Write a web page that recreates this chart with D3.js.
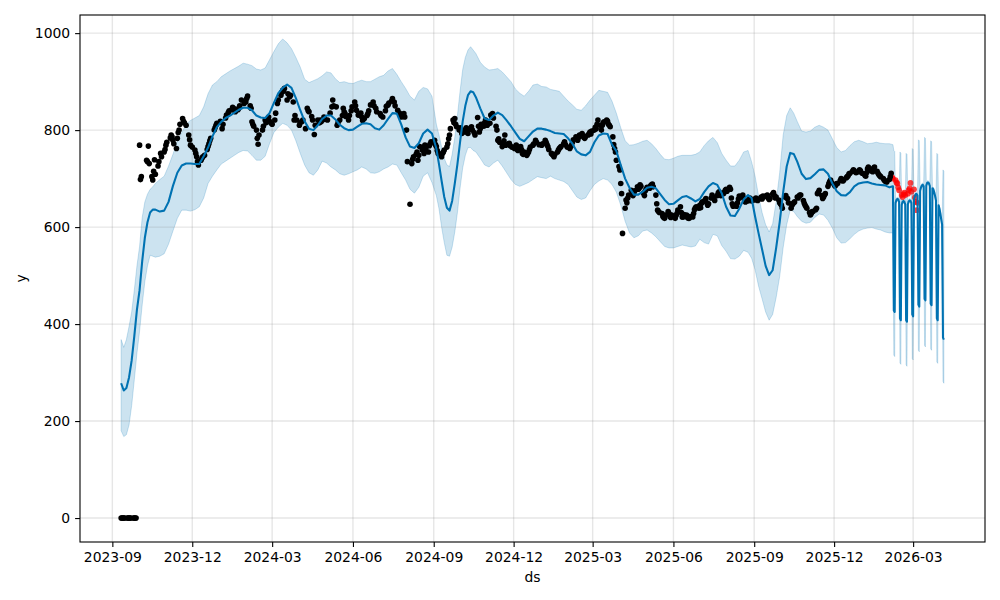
<!DOCTYPE html>
<html>
<head>
<meta charset="utf-8">
<script src="https://cdn.jsdelivr.net/npm/d3@7"></script>
<style>
  body { margin: 0; background: #fff; }
  svg { font-family: "DejaVu Sans", sans-serif; }
</style>
</head>
<body>
<svg id="chart" width="1000" height="600"></svg>
<script>
// observed values (black dots), [month-day, y]
const actual2023 = [
  ["09-11",0],["09-12",0],["09-13",0],["09-14",0],["09-15",0],["09-18",0],["09-19",0],["09-20",0],["09-21",0],["09-22",0],["09-25",0],["09-26",0],["09-27",0],["09-28",0],
  ["10-02",769],["10-03",698],["10-04",704],["10-10",738],["10-11",735],["10-12",767],["10-13",731],["10-16",704],["10-17",697],["10-18",715],["10-19",739],["10-20",709],["10-23",726],["10-24",735],["10-26",752],["10-27",745],["10-30",755],["10-31",760],
  ["11-01",769],["11-02",775],["11-06",784],["11-07",790],["11-08",786],["11-09",779],["11-10",772],["11-13",762],["11-14",783],["11-15",795],["11-16",800],["11-17",812],["11-20",824],["11-21",818],["11-22",815],["11-24",810],["11-27",790],["11-28",780],["11-29",769],
  ["12-01",765],["12-04",759],["12-05",752],["12-06",745],["12-07",735],["12-08",728],["12-11",738],["12-12",742],["12-13",745],["12-15",748],["12-18",760],["12-19",766],["12-20",772],["12-21",778],["12-22",783],["12-26",800],["12-27",805],["12-28",810],["12-29",814]
];
const actual2024 = [
  ["01-02",818],["01-04",803],["01-05",812],["01-08",825],["01-09",831],["01-11",836],["01-12",840],["01-15",842],["01-16",847],["01-18",844],["01-19",838],["01-22",842],["01-23",845],["01-24",850],["01-26",862],["01-29",855],["01-31",858],
  ["02-01",865],["02-02",870],["02-05",850],["02-06",845],["02-07",817],["02-08",812],["02-09",808],["02-12",800],["02-13",783],["02-14",771],["02-15",790],["02-19",800],["02-20",808],["02-22",821],["02-23",815],["02-26",827],["02-27",818],["02-29",814],
  ["03-01",812],["03-04",821],["03-05",835],["03-07",855],["03-08",862],["03-11",872],["03-12",878],["03-13",882],["03-14",880],["03-15",886],["03-18",862],["03-19",875],["03-21",869],["03-22",872],["03-25",858],["03-26",821],["03-27",830],["03-29",821],
  ["04-01",810],["04-02",815],["04-04",818],["04-05",821],["04-08",803],["04-10",845],["04-11",840],["04-12",838],["04-15",828],["04-16",821],["04-18",791],["04-19",810],["04-22",821],["04-24",815],["04-25",821],["04-26",818],["04-29",827],["04-30",822],
  ["05-03",821],["05-06",835],["05-08",848],["05-09",862],["05-10",850],["05-13",848],["05-14",810],["05-15",815],["05-17",821],["05-20",830],["05-21",845],["05-22",838],["05-23",834],["05-24",828],["05-27",821],["05-28",830],["05-30",840],["05-31",848],
  ["06-03",858],["06-04",850],["06-05",841],["06-07",831],["06-10",835],["06-11",827],["06-12",820],["06-14",824],["06-17",830],["06-18",834],["06-19",840],["06-21",852],["06-24",858],["06-25",850],["06-27",845],["06-28",838],
  ["07-02",834],["07-03",830],["07-05",827],["07-08",840],["07-09",849],["07-11",852],["07-12",856],["07-15",860],["07-16",865],["07-18",858],["07-19",850],["07-22",841],["07-24",835],["07-26",827],["07-29",834],["07-30",827],
  ["08-01",800],["08-02",735],["08-05",647],["08-07",731],["08-08",740],["08-09",745],["08-12",750],["08-13",755],["08-14",738],["08-15",748],["08-16",766],["08-19",759],["08-20",765],["08-21",752],["08-22",769],["08-23",762],["08-26",755],["08-27",768],["08-28",772],["08-29",776],
  ["09-02",779],["09-03",770],["09-04",766],["09-05",758],["09-06",752],["09-09",748],["09-10",745],["09-11",752],["09-12",755],["09-13",759],["09-16",765],["09-17",772],["09-18",782],["09-19",790],["09-20",803],["09-23",821],["09-24",815],["09-25",824],["09-26",812],["09-27",807],["09-30",800],
  ["10-01",805],["10-03",793],["10-04",800],["10-07",796],["10-08",805],["10-09",800],["10-10",793],["10-11",802],["10-14",807],["10-15",800],["10-17",795],["10-18",790],["10-21",826],["10-22",808],["10-23",796],["10-24",803],["10-25",812],["10-28",808],["10-29",815],["10-30",821],["10-31",818],
  ["11-01",810],["11-04",814],["11-05",831],["11-06",828],["11-07",834],["11-08",825],["11-11",808],["11-12",800],["11-13",779],["11-14",782],["11-15",775],["11-18",766],["11-19",770],["11-20",778],["11-21",790],["11-22",769],["11-25",772],["11-26",773],["11-27",768],["11-29",765],
  ["12-02",762],["12-03",766],["12-04",769],["12-05",760],["12-06",758],["12-09",766],["12-10",760],["12-11",752],["12-12",750],["12-13",755],["12-16",748],["12-17",752],["12-18",755],["12-19",760],["12-20",765],["12-23",769],["12-24",772],["12-26",779],["12-27",775],["12-30",770]
];
const actual2025 = [
  ["01-02",769],["01-03",772],["01-06",779],["01-07",775],["01-08",770],["01-09",766],["01-10",760],["01-13",752],["01-14",750],["01-15",748],["01-16",745],["01-17",750],["01-20",755],["01-21",759],["01-22",762],["01-23",764],["01-24",766],["01-27",772],["01-28",776],["01-29",770],["01-31",765],
  ["02-03",762],["02-04",766],["02-05",769],["02-06",775],["02-07",780],["02-10",786],["02-11",782],["02-12",779],["02-13",785],["02-14",790],["02-17",793],["02-18",788],["02-19",785],["02-20",783],["02-21",787],["02-24",790],["02-25",793],["02-26",796],["02-27",792],["02-28",798],
  ["03-03",800],["03-04",806],["03-05",803],["03-06",812],["03-07",821],["03-10",810],["03-11",800],["03-12",810],["03-13",815],["03-14",817],["03-17",821],["03-18",818],["03-19",812],["03-20",810],["03-21",807],["03-24",786],["03-25",770],["03-26",762],["03-27",755],["03-28",738],["03-31",725],
  ["04-01",718],["04-02",690],["04-03",669],["04-04",587],["04-07",639],["04-08",656],["04-09",650],["04-10",660],["04-11",666],["04-14",676],["04-15",670],["04-16",665],["04-17",669],["04-18",675],["04-21",683],["04-22",678],["04-23",680],["04-24",687],["04-25",684],["04-28",670],["04-29",665],["04-30",675],
  ["05-01",678],["05-02",682],["05-05",680],["05-06",685],["05-07",687],["05-08",689],["05-09",683],["05-12",666],["05-13",648],["05-14",635],["05-15",632],["05-16",630],["05-19",628],["05-20",622],["05-21",620],["05-22",618],["05-23",625],["05-26",632],["05-27",628],["05-28",622],["05-29",620],["05-30",625],
  ["06-02",622],["06-03",618],["06-04",624],["06-05",628],["06-06",635],["06-09",642],["06-10",630],["06-11",621],["06-12",621],["06-13",626],["06-16",625],["06-17",620],["06-18",618],["06-19",618],["06-20",622],["06-23",621],["06-24",628],["06-25",636],["06-26",640],["06-27",642],["06-30",639],
  ["07-01",645],["07-02",640],["07-03",649],["07-04",652],["07-07",656],["07-08",659],["07-09",650],["07-10",645],["07-11",648],["07-14",660],["07-15",666],["07-16",662],["07-17",659],["07-18",655],["07-21",665],["07-22",670],["07-23",673],["07-24",668],["07-25",665],["07-28",669],["07-29",672],["07-30",676],["07-31",678],
  ["08-01",674],["08-04",682],["08-05",678],["08-06",660],["08-07",648],["08-08",643],["08-11",645],["08-12",643],["08-13",650],["08-14",658],["08-15",664],["08-18",662],["08-19",666],["08-20",660],["08-21",655],["08-22",652],["08-25",654],["08-26",656],["08-27",660],["08-28",658],["08-29",654],
  ["09-01",656],["09-02",658],["09-03",660],["09-04",657],["09-05",655],["09-08",659],["09-09",662],["09-10",658],["09-11",664],["09-12",662],["09-15",665],["09-16",666],["09-17",660],["09-18",657],["09-19",659],["09-22",668],["09-23",671],["09-24",665],["09-25",660],["09-26",662],["09-29",656],["09-30",650],
  ["10-01",648],["10-02",645],["10-03",639],["10-06",662],["10-07",665],["10-08",660],["10-09",659],["10-10",650],["10-13",639],["10-14",645],["10-15",648],["10-16",650],["10-17",652],["10-20",662],["10-21",660],["10-22",664],["10-23",666],["10-24",666],["10-27",655],["10-28",649],["10-29",645],["10-30",642],["10-31",639],
  ["11-03",630],["11-04",625],["11-05",628],["11-06",632],["11-07",632],["11-10",636],["11-11",639],["11-12",669],["11-13",672],["11-14",676],["11-17",665],["11-18",659],["11-19",662],["11-20",666],["11-21",669],["11-24",684],["11-25",690],["11-26",694],["11-27",697],["11-28",692],
  ["12-01",688],["12-02",685],["12-03",687],["12-04",690],["12-05",690],["12-08",696],["12-09",700],["12-10",698],["12-11",695],["12-12",697],["12-15",702],["12-16",704],["12-17",706],["12-18",710],["12-19",711],["12-22",715],["12-23",718],["12-24",716],["12-26",712],["12-29",714],["12-30",718],["12-31",716]
];
const actual2026 = [
  ["01-02",711],["01-05",707],["01-06",705],["01-07",712],["01-08",720],["01-09",724],["01-12",716],["01-13",718],["01-14",714],["01-15",722],["01-16",724],["01-19",715],["01-20",711],["01-21",708],["01-22",706],["01-23",704],["01-26",700],["01-27",697],["01-28",695],["01-29",694],["01-30",693],
  ["02-02",698],["02-03",704],["02-04",711]
];

// held-out values (red dots)
const test2026 = [
  ["02-05",703],["02-06",700],["02-09",697],["02-10",692],["02-11",690],["02-12",682],["02-13",676],["02-16",666],["02-17",662],["02-18",668],["02-19",671],["02-20",666],
  ["02-23",669],["02-24",676],["02-25",680],["02-26",691],["02-27",673],["03-02",678],["03-03",661],["03-04",652],["03-05",635],["03-06",650]
];

// model fit over history, [month-day, yhat, yhat_lower, yhat_upper]
const fit2023 = [
  ["09-11",278,180,368],["09-14",263,168,352],["09-17",268,172,368],["09-20",290,192,395],["09-23",325,232,425],["09-26",375,285,470],["09-29",430,340,520],
  ["10-02",470,385,560],["10-05",530,440,620],["10-08",578,488,652],["10-11",610,520,668],["10-14",630,542,678],["10-17",636,540,683],["10-20",636,538,690],["10-25",632,540,698],["10-30",634,545,705],
  ["11-04",652,565,726],["11-09",685,592,750],["11-14",712,618,778],["11-19",727,635,795],["11-24",731,635,812],["11-29",731,633,820],
  ["12-04",730,636,825],["12-09",730,642,830],["12-14",746,660,848],["12-19",764,690,875],["12-24",787,705,893],["12-29",806,718,900]
];
const fit2024 = [
  ["01-03",817,730,910],["01-08",825,736,916],["01-13",830,742,922],["01-18",836,748,927],["01-23",842,754,932],["01-28",846,758,938],
  ["02-02",846,757,936],["02-07",841,748,933],["02-12",830,738,926],["02-17",826,738,924],["02-22",825,746,928],["02-27",835,772,945],
  ["03-03",856,795,962],["03-08",876,806,978],["03-13",887,814,988],["03-18",894,810,980],["03-23",887,800,968],["03-28",866,778,950],
  ["04-02",841,752,930],["04-07",818,728,905],["04-12",803,712,898],["04-17",800,707,902],["04-22",810,718,906],["04-27",823,736,912],
  ["05-02",830,732,920],["05-07",830,724,918],["05-12",822,718,906],["05-17",811,710,898],["05-22",804,707,900],["05-27",800,710,897],
  ["06-01",801,714,896],["06-06",807,718,900],["06-11",813,724,903],["06-16",814,720,900],["06-21",812,712,900],["06-26",804,711,905],
  ["07-01",801,714,910],["07-06",810,720,913],["07-11",823,724,922],["07-16",835,730,927],["07-21",834,728,915],["07-26",812,712,900],["07-31",785,697,886],
  ["08-05",766,678,870],["08-10",763,670,862],["08-15",773,682,880],["08-20",793,705,888],["08-25",801,712,885],["08-30",793,692,870],
  ["09-04",762,665,812],["09-07",730,638,790],["09-10",695,600,765],["09-13",662,568,742],["09-16",640,542,728],["09-19",634,540,725],["09-22",654,559,750],["09-25",690,590,785],["09-28",730,630,830],
  ["10-01",775,680,880],["10-04",818,722,925],["10-07",850,748,950],["10-10",872,764,965],["10-13",880,764,972],["10-16",878,758,965],["10-19",868,755,958],["10-24",845,742,940],["10-29",824,728,930],
  ["11-03",821,724,924],["11-08",830,732,925],["11-13",836,738,927],["11-18",831,726,920],["11-23",820,712,910],["11-28",808,698,900],
  ["12-03",795,688,885],["12-08",782,684,876],["12-13",777,688,870],["12-18",787,692,880],["12-23",797,698,893],["12-28",803,704,895]
];
const fit2025 = [
  ["01-02",803,702,890],["01-07",801,700,889],["01-12",798,705,884],["01-17",794,700,882],["01-22",793,697,880],["01-27",792,694,870],
  ["02-01",783,688,860],["02-06",772,675,852],["02-11",756,662,843],["02-16",750,657,841],["02-21",748,660,850],["02-26",755,675,862],
  ["03-03",775,688,872],["03-08",789,695,882],["03-13",793,700,880],["03-18",792,697,878],["03-23",770,688,860],["03-28",757,672,835],
  ["04-02",728,645,805],["04-07",700,612,778],["04-12",681,588,769],["04-17",667,578,770],["04-22",667,582,773],["04-27",673,592,777],
  ["05-02",681,594,779],["05-07",683,588,772],["05-12",680,580,762],["05-17",668,570,750],["05-22",656,560,740],["05-27",647,557,739],
  ["06-01",648,557,742],["06-06",655,560,746],["06-11",662,563,748],["06-16",664,561,748],["06-21",659,559,748],["06-26",653,561,750],
  ["07-01",658,575,755],["07-06",672,568,768],["07-11",684,565,778],["07-16",691,585,785],["07-21",687,582,774],["07-26",670,562,752],["07-31",642,550,738],
  ["08-05",624,535,726],["08-10",623,534,726],["08-15",638,540,738],["08-20",657,552,755],["08-25",666,548,758],["08-29",660,536,735],
  ["09-02",622,512,705],["09-06",587,478,664],["09-10",554,452,630],["09-14",520,425,605],["09-18",501,408,590],["09-22",511,420,607],["09-26",557,455,652],["09-30",610,498,712],
  ["10-04",672,558,790],["10-08",725,605,830],["10-12",753,635,846],["10-16",751,632,835],["10-20",735,622,818],["10-25",710,612,798],["10-30",699,608,796],
  ["11-04",701,610,798],["11-09",709,620,806],["11-14",718,627,810],["11-19",719,625,806],["11-24",710,614,800],["11-29",690,598,782],
  ["12-04",674,578,764],["12-09",666,567,755],["12-14",665,568,758],["12-19",672,576,768],["12-24",684,585,776],["12-29",690,592,779]
];
const fit2026 = [
  ["01-03",692,596,776],["01-08",693,598,772],["01-13",690,599,773],["01-18",688,596,775],["01-23",687,594,773],["01-28",686,590,772],
  ["02-02",682,588,772],["02-06",684,588,770]
];

// daily forecast beyond history, [month-day, yhat, yhat_lower, yhat_upper]
const forecast2026 = [
  ["02-07",428,336,758],["02-08",425,333,756],
  ["02-09",650,646,654],["02-10",656,652,660],["02-11",658,654,662],["02-12",657,653,661],["02-13",652,648,656],
  ["02-14",412,320,755],["02-15",408,317,752],
  ["02-16",646,642,650],["02-17",652,648,656],["02-18",654,650,658],["02-19",652,648,656],["02-20",647,643,651],
  ["02-21",408,316,752],["02-22",405,313,750],
  ["02-23",647,643,651],["02-24",653,649,657],["02-25",655,651,659],["02-26",654,650,658],["02-27",650,646,654],
  ["02-28",420,329,762],["03-01",416,326,760],
  ["03-02",657,653,661],["03-03",664,660,668],["03-04",668,664,672],["03-05",668,664,672],["03-06",665,661,669],
  ["03-07",440,346,780],["03-08",436,343,778],
  ["03-09",675,671,679],["03-10",682,678,686],["03-11",686,682,690],["03-12",687,683,691],["03-13",684,680,688],
  ["03-14",452,356,785],["03-15",449,353,783],
  ["03-16",686,682,690],["03-17",691,687,695],["03-18",692,688,696],["03-19",690,686,694],["03-20",685,681,689],
  ["03-21",442,349,778],["03-22",439,346,776],
  ["03-23",680,676,684],["03-24",678,674,682],["03-25",672,668,676],["03-26",664,660,668],["03-27",655,651,659],
  ["03-28",412,322,752],["03-29",408,319,750],
  ["03-30",645,641,649],["03-31",638,634,642],["04-01",628,624,632],["04-02",616,612,620],["04-03",605,601,609],
  ["04-04",372,282,718],["04-05",368,278,715]
];

const xTickLabels = ['2023-09', '2023-12', '2024-03', '2024-06', '2024-09', '2024-12', '2025-03', '2025-06', '2025-09', '2025-12', '2026-03'];
const yTicks = [0, 200, 400, 600, 800, 1000];

const parseDay = d3.utcParse('%Y-%m-%d');
const parseMonth = d3.utcParse('%Y-%m');
const withYear = (year, list) => list.map(([md, ...vals]) => [parseDay(`${year}-${md}`), ...vals]);

const actual = [
  ...withYear(2023, actual2023), ...withYear(2024, actual2024),
  ...withYear(2025, actual2025), ...withYear(2026, actual2026)
].map(([ds, y]) => ({ ds, y }));
const test = withYear(2026, test2026).map(([ds, y]) => ({ ds, y }));
const fcst = [
  ...withYear(2023, fit2023), ...withYear(2024, fit2024), ...withYear(2025, fit2025),
  ...withYear(2026, fit2026), ...withYear(2026, forecast2026)
].map(([ds, yhat, lower, upper]) => ({ ds, yhat, lower, upper }));

const plotLeft = 80, plotRight = 985, plotTop = 15, plotBottom = 542;

// matplotlib style 5% margins around the data
let [t0, t1] = d3.extent([...actual, ...test, ...fcst], (d) => d.ds);
let tPad = (t1 - t0) * 0.05;
let yLo = d3.min([d3.min(actual, (d) => d.y), d3.min(fcst, (d) => d.lower)]);
let yHi = d3.max([d3.max(actual, (d) => d.y), d3.max(fcst, (d) => d.upper)]);
let yPad = (yHi - yLo) * 0.05;

const x = d3.scaleUtc().domain([new Date(+t0 - tPad), new Date(+t1 + tPad)]).range([plotLeft, plotRight]);
const y = d3.scaleLinear().domain([yLo - yPad, yHi + yPad]).range([plotBottom, plotTop]);

const svg = d3.select('#chart');

svg.append('defs').append('clipPath').attr('id', 'plot-clip')
  .append('rect').attr('x', plotLeft).attr('y', plotTop)
  .attr('width', plotRight - plotLeft).attr('height', plotBottom - plotTop);

const plot = svg.append('g').attr('clip-path', 'url(#plot-clip)');

// uncertainty band
plot.append('path')
  .datum(fcst)
  .attr('d', d3.area().x((d) => x(d.ds)).y0((d) => y(d.lower)).y1((d) => y(d.upper)))
  .attr('fill', '#0072B2').attr('fill-opacity', 0.2)
  .attr('stroke', '#0072B2').attr('stroke-opacity', 0.2).attr('stroke-width', 1);

// red held-out points
plot.append('g').selectAll('circle').data(test).join('circle')
  .attr('cx', (d) => x(d.ds)).attr('cy', (d) => y(d.y)).attr('r', 2.9)
  .attr('fill', 'red').attr('fill-opacity', 0.75);

// grid
const xTicks = xTickLabels.map(parseMonth);
plot.append('g').selectAll('line').data(xTicks).join('line')
  .attr('x1', (d) => x(d)).attr('x2', (d) => x(d)).attr('y1', plotTop).attr('y2', plotBottom)
  .attr('stroke', 'gray').attr('stroke-opacity', 0.2).attr('stroke-width', 1.39);
plot.append('g').selectAll('line').data(yTicks).join('line')
  .attr('x1', plotLeft).attr('x2', plotRight).attr('y1', (d) => y(d)).attr('y2', (d) => y(d))
  .attr('stroke', 'gray').attr('stroke-opacity', 0.2).attr('stroke-width', 1.39);

// black observed points
plot.append('g').selectAll('circle').data(actual).join('circle')
  .attr('cx', (d) => x(d.ds)).attr('cy', (d) => y(d.y)).attr('r', 2.8)
  .attr('fill', 'black');

// yhat line
plot.append('path')
  .datum(fcst)
  .attr('d', d3.line().x((d) => x(d.ds)).y((d) => y(d.yhat)))
  .attr('fill', 'none').attr('stroke', '#0072B2').attr('stroke-width', 2.08)
  .attr('stroke-linejoin', 'round');

// axes
const xAxis = svg.append('g').attr('transform', `translate(0,${plotBottom})`)
  .call(d3.axisBottom(x).tickValues(xTicks).tickFormat(d3.utcFormat('%Y-%m')).tickSize(4.9).tickPadding(4.9));
const yAxis = svg.append('g').attr('transform', `translate(${plotLeft},0)`)
  .call(d3.axisLeft(y).tickValues(yTicks).tickFormat(d3.format('d')).tickSize(4.9).tickPadding(4.9));

[xAxis, yAxis].forEach((ax) => {
  ax.select('.domain').remove();
  ax.selectAll('line').attr('stroke', 'black').attr('stroke-width', 1.1);
  ax.selectAll('text').attr('font-size', 13.9).attr('fill', 'black')
    .attr('font-family', '"DejaVu Sans", sans-serif');
});

svg.append('rect')
  .attr('x', plotLeft).attr('y', plotTop)
  .attr('width', plotRight - plotLeft).attr('height', plotBottom - plotTop)
  .attr('fill', 'none').attr('stroke', 'black').attr('stroke-width', 1.1);

svg.append('text')
  .attr('x', (plotLeft + plotRight) / 2).attr('y', 582)
  .attr('text-anchor', 'middle').attr('font-size', 13.9)
  .text('ds');

svg.append('text')
  .attr('transform', `translate(26,${(plotTop + plotBottom) / 2}) rotate(-90)`)
  .attr('text-anchor', 'middle').attr('font-size', 13.9)
  .text('y');
</script>
</body>
</html>
